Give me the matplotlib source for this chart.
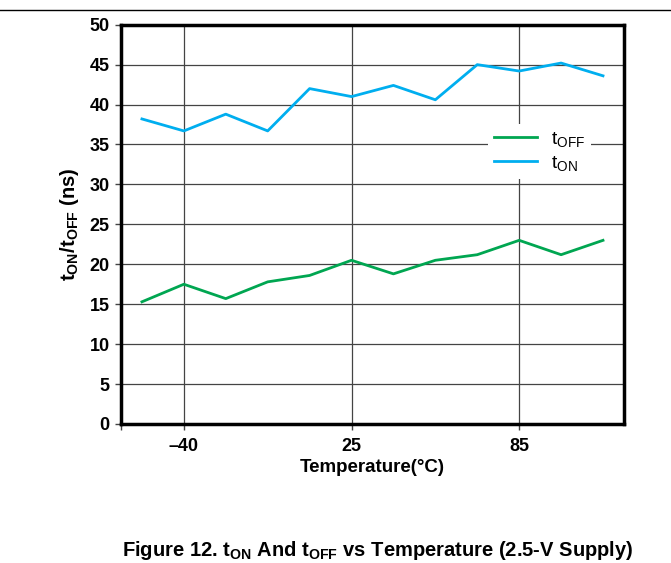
import numpy as np
import matplotlib
matplotlib.use("Agg")
import matplotlib.pyplot as plt

plt.rcParams["font.family"] = ["Liberation Sans", "DejaVu Sans"]
plt.rcParams["mathtext.fontset"] = "custom"
plt.rcParams["mathtext.rm"] = "Liberation Sans"
plt.rcParams["mathtext.bf"] = "Liberation Sans:bold"
plt.rcParams["mathtext.it"] = "Liberation Sans:italic"

# data (12 temperature steps, ns)
t_on = [38.2, 36.7, 38.8, 36.7, 42.0, 41.0, 42.4, 40.6, 45.0, 44.2, 45.2, 43.6]
t_off = [15.3, 17.5, 15.7, 17.8, 18.6, 20.5, 18.8, 20.5, 21.2, 23.0, 21.2, 23.0]
tick_pos = [1, 5, 9]
tick_labels = ["\u201340", "25", "85"]
y_ticks = [0, 5, 10, 15, 20, 25, 30, 35, 40, 45, 50]

green = "#00A651"
blue = "#00AEEF"

fig = plt.figure(figsize=(6.71, 5.63), dpi=100)
ax = fig.add_axes([0.1803, 0.2469, 0.7496, 0.7092])

x = np.arange(len(t_on))
ax.plot(x, t_off, color=green, lw=2, label=r"$\mathrm{t_{OFF}}$")
ax.plot(x, t_on, color=blue, lw=2, label=r"$\mathrm{t_{ON}}$")

ax.set_xlim(-0.5, 11.5)
ax.set_ylim(0, 50)
ax.set_yticks(y_ticks)
ax.set_xticks([-0.5] + tick_pos)
ax.set_xticklabels([""] + tick_labels)
ax.grid(True, color="#444444", lw=0.9)
ax.set_axisbelow(True)
for s in ax.spines.values():
    s.set_linewidth(2.5)
ax.tick_params(axis="both", labelsize=13, width=1, length=4, direction="out", color="#444444")
ax.tick_params(axis="y", pad=4)
ax.tick_params(axis="x", pad=6)
for lab in ax.get_xticklabels() + ax.get_yticklabels():
    lab.set_fontweight("bold")

ax.set_xlabel("Temperature(\u00b0C)", fontsize=13.5, fontweight="bold", labelpad=3)
ax.set_ylabel(r"$\mathbf{t_{ON}/t_{OFF}}$ (ns)", fontsize=14.5, fontweight="bold", labelpad=6)

leg = ax.legend(loc="upper left", bbox_to_anchor=(0.711, 0.775), frameon=True,
                fontsize=14, handlelength=2.2, borderpad=0.3, labelspacing=0.25,
                handletextpad=0.7)
leg.get_frame().set_edgecolor("none")
leg.get_frame().set_facecolor("white")
leg.get_frame().set_alpha(1)

# rule line at top of page
fig.add_artist(plt.Line2D([0, 1], [1 - 9.5 / 563] * 2, color="black", lw=1))

fig.text(377.5 / 671, 1 - 550 / 563,
         r"Figure 12. $\mathbf{t_{ON}}$ And $\mathbf{t_{OFF}}$ vs Temperature (2.5-V Supply)",
         ha="center", va="center", fontsize=14.5, fontweight="bold")

fig.savefig("out.png", dpi=100)
